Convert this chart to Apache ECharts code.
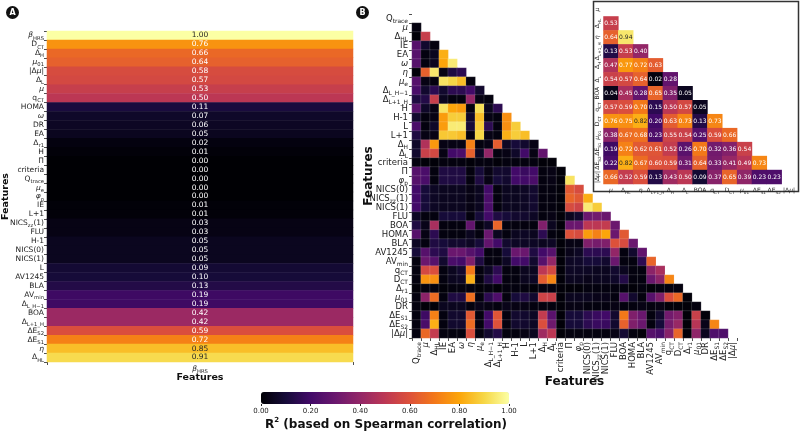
<!DOCTYPE html>
<html><head><meta charset="utf-8">
<script src="https://cdn.jsdelivr.net/npm/echarts@6.0.0/dist/echarts.min.js"></script>
<style>html,body{margin:0;padding:0;background:#fff}#c{width:800px;height:435px}</style>
</head><body><div id="c"></div><script>
// ---------- DATA ----------
var features = ['Q_{trace}','μ','Δ_{HL}','IE','EA','ω','η','μ_{e}','Δ_{L_H−1}','Δ_{L+1_H}','H','H-1','L','L+1','Δ_{H}','Δ_{L}','criteria','Π','φ_{p}','NICS(0)','NICS_{zz}(1)','NICS(1)','FLU','BOA','HOMA','BLA','AV1245','AV_{min}','q_{CT}','D_{CT}','Δ_{r1}','μ_{01}','DR','ΔE_{S1}','ΔE_{S2}','|Δμ|'];
// lower triangle, row r holds correlations with columns 0..r-1
var corrRows = [
 [],
 [0.02],
 [0.01,0.53],
 [0.25,0.08,0.02],
 [0.25,0.02,0.05,0.82],
 [0.25,0.02,0.05,0.80,0.95],
 [0.01,0.64,0.94,0.03,0.12,0.15],
 [0.25,0.03,0.02,0.93,0.90,0.85,0.02],
 [0.22,0.08,0.15,0.08,0.15,0.15,0.20,0.08],
 [0.12,0.13,0.53,0.05,0.02,0.02,0.40,0.03,0.02],
 [0.25,0.07,0.03,0.93,0.80,0.78,0.02,0.92,0.05,0.15],
 [0.08,0.02,0.03,0.78,0.88,0.88,0.07,0.85,0.03,0.02,0.75],
 [0.22,0.02,0.07,0.78,0.95,0.95,0.10,0.88,0.15,0.02,0.75,0.88],
 [0.12,0.03,0.03,0.87,0.87,0.85,0.02,0.90,0.03,0.02,0.82,0.88,0.85],
 [0.07,0.47,0.77,0.03,0.03,0.03,0.72,0.02,0.03,0.63,0.06,0.10,0.08,0.03],
 [0.08,0.54,0.57,0.03,0.20,0.22,0.64,0.06,0.40,0.02,0.03,0.07,0.20,0.03,0.28],
 [0.02,0.01,0.01,0.02,0.02,0.02,0.01,0.02,0.02,0.01,0.02,0.02,0.02,0.02,0.01,0.01],
 [0.25,0.22,0.02,0.12,0.12,0.12,0.02,0.10,0.03,0.08,0.08,0.20,0.18,0.20,0.02,0.03,0.01],
 [0.25,0.22,0.02,0.12,0.12,0.12,0.02,0.12,0.03,0.10,0.08,0.20,0.20,0.22,0.02,0.03,0.01,0.93],
 [0.20,0.10,0.06,0.05,0.05,0.05,0.03,0.05,0.20,0.02,0.05,0.05,0.06,0.08,0.02,0.02,0.01,0.62,0.58],
 [0.20,0.10,0.06,0.05,0.05,0.05,0.03,0.05,0.22,0.02,0.05,0.05,0.06,0.08,0.02,0.02,0.01,0.65,0.62,0.82],
 [0.20,0.10,0.06,0.05,0.05,0.05,0.03,0.05,0.22,0.02,0.05,0.05,0.06,0.08,0.02,0.02,0.01,0.58,0.55,0.95,0.88],
 [0.06,0.02,0.02,0.10,0.10,0.10,0.02,0.10,0.20,0.12,0.10,0.08,0.08,0.06,0.02,0.03,0.01,0.05,0.08,0.30,0.32,0.30],
 [0.12,0.04,0.45,0.02,0.02,0.02,0.28,0.02,0.06,0.65,0.02,0.02,0.02,0.02,0.35,0.05,0.01,0.30,0.30,0.50,0.50,0.52,0.30],
 [0.25,0.03,0.15,0.02,0.02,0.02,0.05,0.02,0.30,0.05,0.02,0.05,0.06,0.05,0.15,0.02,0.01,0.60,0.58,0.78,0.72,0.80,0.30,0.62],
 [0.06,0.02,0.12,0.10,0.08,0.08,0.06,0.10,0.28,0.20,0.08,0.06,0.06,0.06,0.05,0.06,0.01,0.03,0.03,0.35,0.33,0.35,0.60,0.58,0.30],
 [0.10,0.25,0.15,0.12,0.30,0.30,0.25,0.20,0.02,0.02,0.10,0.30,0.30,0.12,0.20,0.25,0.01,0.04,0.06,0.15,0.15,0.15,0.40,0.02,0.08,0.28],
 [0.02,0.30,0.25,0.08,0.22,0.20,0.35,0.12,0.02,0.02,0.06,0.20,0.20,0.08,0.25,0.40,0.01,0.06,0.07,0.10,0.10,0.08,0.30,0.02,0.02,0.15,0.65],
 [0.02,0.57,0.59,0.02,0.05,0.08,0.70,0.02,0.06,0.15,0.02,0.02,0.05,0.05,0.50,0.57,0.01,0.06,0.06,0.06,0.05,0.05,0.08,0.05,0.02,0.02,0.38,0.45],
 [0.02,0.76,0.75,0.02,0.05,0.06,0.82,0.02,0.12,0.20,0.02,0.02,0.05,0.06,0.63,0.73,0.01,0.05,0.05,0.04,0.05,0.05,0.07,0.13,0.02,0.02,0.30,0.38,0.73],
 [0.01,0.02,0.02,0.01,0.02,0.02,0.02,0.01,0.02,0.01,0.02,0.02,0.02,0.01,0.02,0.02,0.01,0.01,0.01,0.02,0.02,0.02,0.02,0.02,0.01,0.02,0.01,0.02,0.02,0.02],
 [0.02,0.38,0.67,0.02,0.12,0.12,0.68,0.02,0.15,0.23,0.02,0.10,0.12,0.08,0.55,0.54,0.01,0.05,0.05,0.05,0.04,0.04,0.02,0.25,0.08,0.02,0.25,0.35,0.59,0.66,0.01],
 [0.02,0.01,0.01,0.05,0.05,0.05,0.02,0.04,0.03,0.02,0.04,0.03,0.03,0.02,0.02,0.02,0.01,0.03,0.03,0.02,0.02,0.02,0.03,0.02,0.02,0.03,0.02,0.03,0.01,0.01,0.01,0.02],
 [0.02,0.19,0.72,0.02,0.08,0.08,0.62,0.02,0.20,0.61,0.02,0.08,0.08,0.06,0.52,0.26,0.01,0.10,0.10,0.15,0.18,0.20,0.08,0.70,0.35,0.30,0.02,0.08,0.32,0.36,0.01,0.54,0.01],
 [0.02,0.22,0.82,0.02,0.08,0.08,0.67,0.02,0.20,0.60,0.02,0.08,0.08,0.06,0.59,0.31,0.01,0.10,0.10,0.15,0.18,0.18,0.08,0.64,0.35,0.30,0.02,0.10,0.33,0.41,0.01,0.49,0.04,0.73],
 [0.02,0.66,0.52,0.02,0.02,0.02,0.59,0.02,0.08,0.13,0.02,0.02,0.03,0.05,0.43,0.50,0.01,0.02,0.02,0.02,0.02,0.02,0.03,0.09,0.02,0.01,0.25,0.22,0.37,0.65,0.01,0.39,0.05,0.23,0.23]
];
var panelAFeatures = ['β_{HRS}','D_{CT}','Δ_{H}','μ_{01}','|Δμ|','Δ_{L}','μ','q_{CT}','HOMA','ω','DR','EA','Δ_{r1}','H','Π','criteria','Q_{trace}','μ_{e}','φ_{p}','IE','L+1','NICS_{zz}(1)','FLU','H-1','NICS(0)','NICS(1)','L','AV1245','BLA','AV_{min}','Δ_{L_H−1}','BOA','Δ_{L+1_H}','ΔE_{S2}','ΔE_{S1}','η','Δ_{HL}'];
var panelAValues = [1.00,0.76,0.66,0.64,0.58,0.57,0.53,0.50,0.11,0.07,0.06,0.05,0.02,0.01,0.00,0.00,0.00,0.00,0.00,0.01,0.01,0.03,0.03,0.05,0.05,0.05,0.09,0.10,0.13,0.19,0.19,0.42,0.42,0.59,0.72,0.85,0.91];
var panelACategory = ['β_{HRS}'];
var insetFeatures = ['μ','Δ_{HL}','η','Δ_{L+1_H}','Δ_{H}','Δ_{L}','BOA','q_{CT}','D_{CT}','μ_{01}','ΔE_{S1}','ΔE_{S2}','|Δμ|'];
var colorbarTicks = [0, 0.2, 0.4, 0.6, 0.8, 1.0];
var inferno = ['#000004','#160b39','#420a68','#6a176e','#932667','#bc3754','#dd513a','#f37819','#fca50a','#f6d746','#fcffa4'];

// ---------- helpers ----------
var FONT = 'DejaVu Sans';
function toRich(name){
  var out = '', re = /_\{([^}]*)\}/g, last = 0, m;
  function plain(t){
    var o='', buf='';
    for (var k=0;k<t.length;k++){
      var ch=t[k];
      if ('μηωφβ'.indexOf(ch)>=0){ if(buf){o+='{n|'+buf+'}';buf='';} o+='{i|'+ch+'}'; }
      else buf+=ch;
    }
    if(buf) o+='{n|'+buf+'}';
    return o;
  }
  while ((m = re.exec(name))) {
    if (m.index > last) out += plain(name.slice(last, m.index));
    out += '{s|' + m[1] + '}';
    last = re.lastIndex;
  }
  if (last < name.length) out += plain(name.slice(last));
  return out;
}
function makeRich(F){
  return {
    n:{fontSize:F, fontFamily:FONT, color:'#222', lineHeight:F+3, verticalAlign:'middle'},
    i:{fontSize:F, fontFamily:FONT, fontStyle:'italic', color:'#222', lineHeight:F+3, verticalAlign:'middle'},
    s:{fontSize:F*0.7, fontFamily:FONT, color:'#222', lineHeight:F*0.8, verticalAlign:'bottom'}
  };
}
function txtColor(v){ return v >= 0.8 ? '#262626' : '#ffffff'; }

// ---------- build series data ----------
var dataA = panelAValues.map(function(v,i){ return {value:[0,i,v], label:{color:txtColor(v)}}; });
var dataB = [];
corrRows.forEach(function(row,r){ row.forEach(function(v,c){ dataB.push([c,r,v]); }); });
var insetIdx = insetFeatures.map(function(f){ return features.indexOf(f); });
var dataC = [];
insetIdx.forEach(function(ri,r){
  insetIdx.forEach(function(ci,c){
    if (c < r) { var v = corrRows[ri][ci]; dataC.push({value:[c,r,v], label:{color:txtColor(v)}}); }
  });
});

var chart = echarts.init(document.getElementById('c'), null, {renderer:'canvas'});
var tick = {show:true, length:3, lineStyle:{color:'#222', width:0.8}};
var option = {
  animation:false,
  backgroundColor:'#fff',
  textStyle:{fontFamily:FONT},
  grid:[
    {left:46, top:31, width:307, height:331},
    {left:412, top:14, width:325, height:324},
    {left:603.5, top:2.5, width:193, height:181.5},
    {left:261, top:392, width:248, height:12}
  ],
  xAxis:[
    {gridIndex:0, type:'category', data:panelACategory, axisLine:{show:false}, axisTick:tick,
     axisLabel:{fontSize:7.5, margin:2, formatter:function(v){return toRich(v);}, rich:makeRich(7.5)},
     name:'Features', nameLocation:'middle', nameGap:11, nameMoveOverlap:false, nameTextStyle:{fontSize:9.5, fontWeight:'bold', color:'#111', fontFamily:FONT}},
    {gridIndex:1, type:'category', data:features, axisLine:{show:false}, axisTick:tick,
     axisLabel:{interval:0, rotate:90, fontSize:8.5, margin:4, formatter:function(v){return toRich(v);}, rich:makeRich(8.5)},
     name:'Features', nameLocation:'middle', nameGap:38, nameMoveOverlap:false, nameTextStyle:{fontSize:12, fontWeight:'bold', color:'#111', fontFamily:FONT}},
    {gridIndex:2, type:'category', data:insetFeatures, axisLine:{show:false}, axisTick:{show:false},
     axisLabel:{interval:0, fontSize:6, margin:2, formatter:function(v){return toRich(v);}, rich:makeRich(6)}},
    {gridIndex:3, type:'value', min:0, max:1, interval:0.2, axisLine:{show:false}, splitLine:{show:false},
     axisTick:{show:true, length:2, lineStyle:{color:'#222'}},
     axisLabel:{fontSize:7, margin:4, color:'#222', formatter:function(v){return v.toFixed(2);}}}
  ],
  yAxis:[
    {gridIndex:0, type:'category', data:panelAFeatures, inverse:true, axisLine:{show:false}, axisTick:tick,
     axisLabel:{interval:0, fontSize:7.5, margin:3, formatter:function(v){return toRich(v);}, rich:makeRich(7.5)},
     name:'Features', nameLocation:'middle', nameGap:36, nameRotate:90, nameMoveOverlap:false, nameTextStyle:{fontSize:9.5, fontWeight:'bold', color:'#111', fontFamily:FONT}},
    {gridIndex:1, type:'category', data:features, inverse:true, axisLine:{show:false}, axisTick:tick,
     axisLabel:{interval:0, fontSize:8.5, margin:4, formatter:function(v){return toRich(v);}, rich:makeRich(8.5)},
     name:'Features', nameLocation:'middle', nameGap:37, nameRotate:90, nameMoveOverlap:false, nameTextStyle:{fontSize:12, fontWeight:'bold', color:'#111', fontFamily:FONT}},
    {gridIndex:2, type:'category', data:insetFeatures, inverse:true, axisLine:{show:false}, axisTick:{show:false},
     axisLabel:{interval:0, rotate:90, fontSize:6, margin:2, formatter:function(v){return toRich(v);}, rich:makeRich(6)}},
    {gridIndex:3, type:'category', data:[''], show:false}
  ],
  visualMap:{
    type:'continuous', min:0, max:1, seriesIndex:[0,1,2], orient:'horizontal', calculable:false,
    left:261, top:392, itemWidth:12, itemHeight:248, padding:0, text:null, showLabel:false,
    inRange:{color:inferno}
  },
  graphic:[
    {type:'rect', z:0, shape:{x:593.5, y:1.5, width:205, height:190}, style:{fill:'#fff', stroke:'#333', lineWidth:1.5}},
    {type:'circle', shape:{cx:12.5, cy:12.5, r:6.5}, style:{fill:'#111'}},
    {type:'text', x:12.5, y:12.8, style:{text:'A', fill:'#fff', font:'bold 8px DejaVu Sans', align:'center', verticalAlign:'middle'}},
    {type:'circle', shape:{cx:362.5, cy:12.5, r:6.5}, style:{fill:'#111'}},
    {type:'text', x:362.5, y:12.8, style:{text:'B', fill:'#fff', font:'bold 8px DejaVu Sans', align:'center', verticalAlign:'middle'}},
    {type:'text', x:386, y:425, style:{text:'{b|R}{sup|2}{b| (based on Spearman correlation)}', align:'center', verticalAlign:'middle',
      rich:{b:{font:'bold 12px DejaVu Sans', fill:'#111', lineHeight:16, verticalAlign:'middle'}, sup:{font:'bold 7px DejaVu Sans', fill:'#111', lineHeight:7, verticalAlign:'top'}}}}
  ],
  series:[
    {type:'heatmap', xAxisIndex:0, yAxisIndex:0, data:dataA,
     label:{show:true, fontSize:7.5, fontFamily:FONT, formatter:function(p){return p.value[2].toFixed(2);}},
     emphasis:{disabled:true}},
    {type:'heatmap', xAxisIndex:1, yAxisIndex:1, data:dataB,
     itemStyle:{borderColor:'rgba(255,255,255,0.28)', borderWidth:0.5}, emphasis:{disabled:true}},
    {type:'heatmap', xAxisIndex:2, yAxisIndex:2, data:dataC, z:5,
     label:{show:true, fontSize:6, fontFamily:FONT, formatter:function(p){return p.value[2].toFixed(2);}},
     emphasis:{disabled:true}},
    {type:'scatter', xAxisIndex:3, yAxisIndex:3, data:[], silent:true}
  ]
};
chart.setOption(option);
</script></body></html>
